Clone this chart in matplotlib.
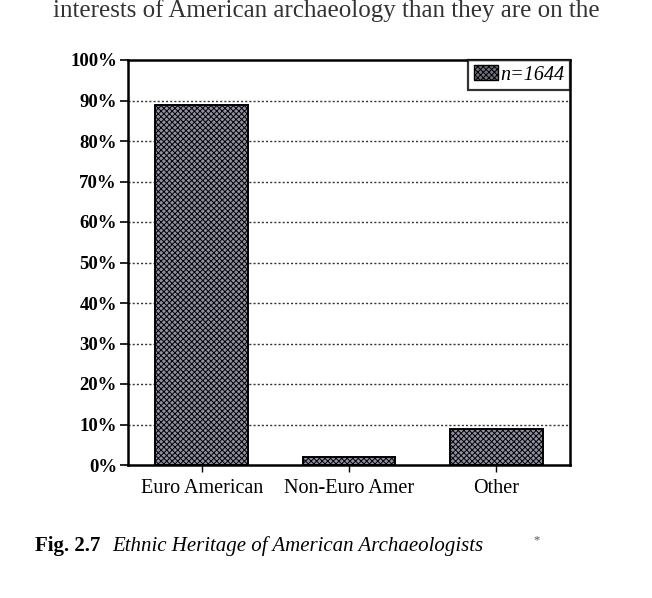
import matplotlib
matplotlib.use("Agg")
import matplotlib.pyplot as plt
from matplotlib.patches import Patch

# --- Data ---
categories = ["Euro American", "Non-Euro Amer", "Other"]
shares = [89, 2, 9]  # percent
n_label = "n=1644"
yticks = list(range(0, 101, 10))

SERIF = "Liberation Serif"
BAR_FACE = "#9090a2"
plt.rcParams["hatch.linewidth"] = 0.7

fig = plt.figure(figsize=(6.52, 5.98), dpi=100)
ax = fig.add_axes([128 / 652, 1 - 465 / 598, 442 / 652, 405 / 598])

x = list(range(len(categories)))
ax.bar(x, shares, width=0.63, facecolor=BAR_FACE, edgecolor="black",
       linewidth=1.4, hatch="xxxxxx", zorder=3)

ax.set_xlim(-0.5, len(categories) - 0.5)
ax.set_ylim(0, 100)
ax.set_yticks(yticks)
ax.set_yticklabels([f"{t}%" for t in yticks], fontfamily=SERIF,
                   fontweight="bold", fontsize=13.5)
ax.set_xticks(x)
ax.set_xticklabels(categories, fontfamily=SERIF, fontsize=14.5)
ax.tick_params(axis="y", direction="out", length=6, width=1.2, pad=2)
ax.tick_params(axis="x", direction="out", length=5, width=1.0, pad=5)

for t in yticks[1:-1]:
    ax.axhline(t, color="#333333", linestyle=(0, (1.5, 1.5)), linewidth=1.0, zorder=1)

for s in ax.spines.values():
    s.set_linewidth(1.8)

leg = ax.legend(handles=[Patch(facecolor="#707080", edgecolor="black", hatch="xxxxxx")],
                labels=[n_label], loc="upper right", bbox_to_anchor=(1.0, 1.0),
                prop={"family": SERIF, "style": "italic", "size": 14.5},
                frameon=True, fancybox=False, borderpad=0.25, handlelength=1.2,
                handleheight=0.8, handletextpad=0.15, borderaxespad=0)
leg.get_frame().set_edgecolor("black")
leg.get_frame().set_linewidth(1.6)
leg.set_zorder(5)

# page text from the scan
fig.text(0.5, 1 - 17 / 598, "interests of American archaeology than they are on the",
         ha="center", va="baseline", fontfamily=SERIF, fontsize=18, color="#333333")
fig.text(35 / 652, 1 - 546 / 598, "Fig. 2.7", ha="left", va="center",
         fontfamily=SERIF, fontweight="bold", fontsize=15)
fig.text(112 / 652, 1 - 546 / 598, "Ethnic Heritage of American Archaeologists",
         ha="left", va="center", fontfamily=SERIF, style="italic", fontsize=15)
fig.text(537 / 652, 1 - 540 / 598, "*", ha="center", va="center",
         fontfamily=SERIF, fontsize=9, color="#555555")

fig.savefig("out.png", dpi=100)
